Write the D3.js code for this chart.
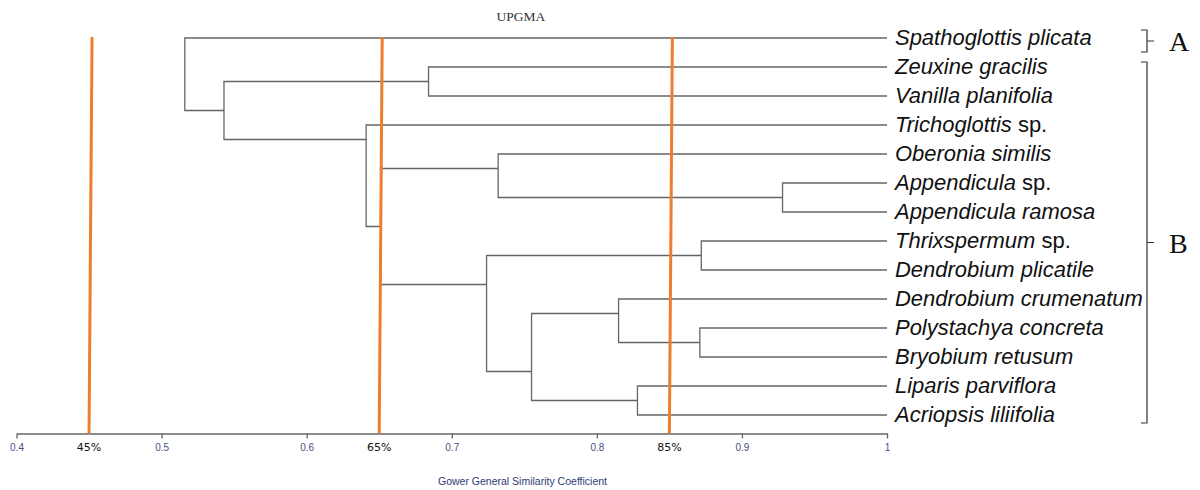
<!DOCTYPE html>
<html>
<head>
<meta charset="utf-8">
<script src="https://cdn.jsdelivr.net/npm/d3@7"></script>
<style>
  body { margin: 0; background: #fff; }
  svg { display: block; }
</style>
</head>
<body>
<div id="chart"></div>
<script>
// leaves, top to bottom
var species = ["Spathoglottis plicata", "Zeuxine gracilis", "Vanilla planifolia", "Trichoglottis sp.",
  "Oberonia similis", "Appendicula sp.", "Appendicula ramosa", "Thrixspermum sp.",
  "Dendrobium plicatile", "Dendrobium crumenatum", "Polystachya concreta", "Bryobium retusum",
  "Liparis parviflora", "Acriopsis liliifolia"];

// merges: [child a, child b, similarity, row where the branch leaves the node]
// new node ids start at species.length (14)
var merges = [
  [5, 6, 0.928, 5.5],
  [7, 8, 0.872, 7.5],
  [10, 11, 0.871, 10.5],
  [12, 13, 0.828, 12.5],
  [9, 16, 0.815, 9.5],
  [18, 17, 0.755, 11.5],
  [4, 14, 0.732, 4.5],
  [15, 19, 0.724, 8.5],
  [1, 2, 0.684, 1.5],
  [20, 21, 0.651, 6.5],
  [3, 23, 0.641, 3.5],
  [22, 24, 0.543, 2.5],
  [0, 25, 0.516, 1.25]
];

var tickValues = [0.4, 0.5, 0.6, 0.7, 0.8, 0.9, 1];
var cutLevels = [0.45, 0.65, 0.85];
var cutLabels = ["45%", "65%", "85%"];
var groups = [{ label: "A", from: 0, to: 0 }, { label: "B", from: 1, to: 13 }];

var width = 1200, height = 490;

var svg = d3.select("#chart").append("svg")
  .attr("width", width)
  .attr("height", height);

var x = d3.scaleLinear().domain([0.4, 1]).range([16.5, 887]);
var y = d3.scaleLinear().domain([0, species.length - 1]).range([38, 415]);

// node positions
var nodes = species.map(function (s, i) {
  return { x: x(1), y: y(i) };
});
merges.forEach(function (m) {
  nodes.push({ x: x(m[2]), y: y(m[3]), a: m[0], b: m[1] });
});

var g = svg.append("g");

// branches
nodes.forEach(function (n) {
  if (n.a === undefined) return;
  var ca = nodes[n.a], cb = nodes[n.b];
  g.append("path")
    .attr("d", "M" + ca.x + "," + ca.y + "H" + n.x + "V" + cb.y + "H" + cb.x)
    .attr("fill", "none")
    .attr("stroke", "#666")
    .attr("stroke-width", 1.3);
});

// axis
var axis = d3.axisBottom(x)
  .tickValues(tickValues)
  .tickSize(5)
  .tickSizeOuter(0)
  .tickFormat(function (d) { return d === 1 ? "1" : d3.format(".1f")(d); });

var ax = svg.append("g")
  .attr("transform", "translate(0,433.5)")
  .call(axis);
ax.select(".domain").attr("stroke", "#666").attr("stroke-width", 1.3);
ax.selectAll(".tick line").attr("stroke", "#666").attr("stroke-width", 1.3);
ax.selectAll(".tick text")
  .attr("y", 10)
  .attr("font-family", "Liberation Sans, Arial, sans-serif")
  .attr("font-size", 10)
  .attr("fill", "#4c4c86");

// cut-off lines
cutLevels.forEach(function (v, i) {
  svg.append("line")
    .attr("x1", x(v) + 3).attr("y1", 37)
    .attr("x2", x(v)).attr("y2", 433)
    .attr("stroke", "#f07d2f")
    .attr("stroke-width", 3);
  svg.append("text")
    .attr("x", x(v))
    .attr("y", 451)
    .attr("text-anchor", "middle")
    .attr("font-family", "DejaVu Sans, sans-serif")
    .attr("font-size", 11)
    .attr("fill", "#111")
    .text(cutLabels[i]);
});

// leaf labels
var labels = svg.append("g")
  .attr("font-family", "'Liberation Sans', Arial, sans-serif")
  .attr("font-size", 21)
  .attr("fill", "#111");

species.forEach(function (s, i) {
  var t = labels.append("text")
    .attr("class", "leaf")
    .attr("x", 895)
    .attr("y", y(i) + 7);
  if (/ sp\.$/.test(s)) {
    t.append("tspan").attr("font-style", "italic").text(s.replace(/ sp\.$/, ""));
    t.append("tspan").text(" sp.");
  } else {
    t.append("tspan").attr("font-style", "italic").text(s);
  }
});

// longest label should reach the bracket (about 248px wide)
var longest = d3.max(labels.selectAll("text").nodes(), function (n) { return n.getComputedTextLength(); });
if (longest > 0) {
  labels.attr("font-size", Math.max(16, Math.min(26, 21 * 248 / longest)));
}

// group brackets
groups.forEach(function (gr) {
  var y0 = y(gr.from) - (gr.from === gr.to ? 8 : 5);
  var y1 = y(gr.to) + (gr.from === gr.to ? 14 : 8);
  var bx = 1147, ym = (y0 + y1) / 2;
  svg.append("path")
    .attr("d", "M" + (bx - 6) + "," + y0 + "H" + bx + "V" + y1 + "H" + (bx - 6) +
      "M" + bx + "," + ym + "H" + (bx + 7))
    .attr("fill", "none")
    .attr("stroke", "#333")
    .attr("stroke-width", 1.2);
  svg.append("text")
    .attr("x", bx + 22)
    .attr("y", ym + 10)
    .attr("font-family", "'Liberation Serif', 'Times New Roman', serif")
    .attr("font-size", 28)
    .attr("fill", "#111")
    .text(gr.label);
});

// titles
svg.append("text")
  .attr("x", 521)
  .attr("y", 21)
  .attr("text-anchor", "middle")
  .attr("font-family", "'Liberation Serif', 'Times New Roman', serif")
  .attr("font-size", 13.5)
  .attr("fill", "#333")
  .text("UPGMA");

svg.append("text")
  .attr("x", 438)
  .attr("y", 485)
  .attr("font-family", "'Liberation Sans', Arial, sans-serif")
  .attr("font-size", 10.5)
  .attr("fill", "#2c3a78")
  .text("Gower General Similarity Coefficient");
</script>
</body>
</html>
